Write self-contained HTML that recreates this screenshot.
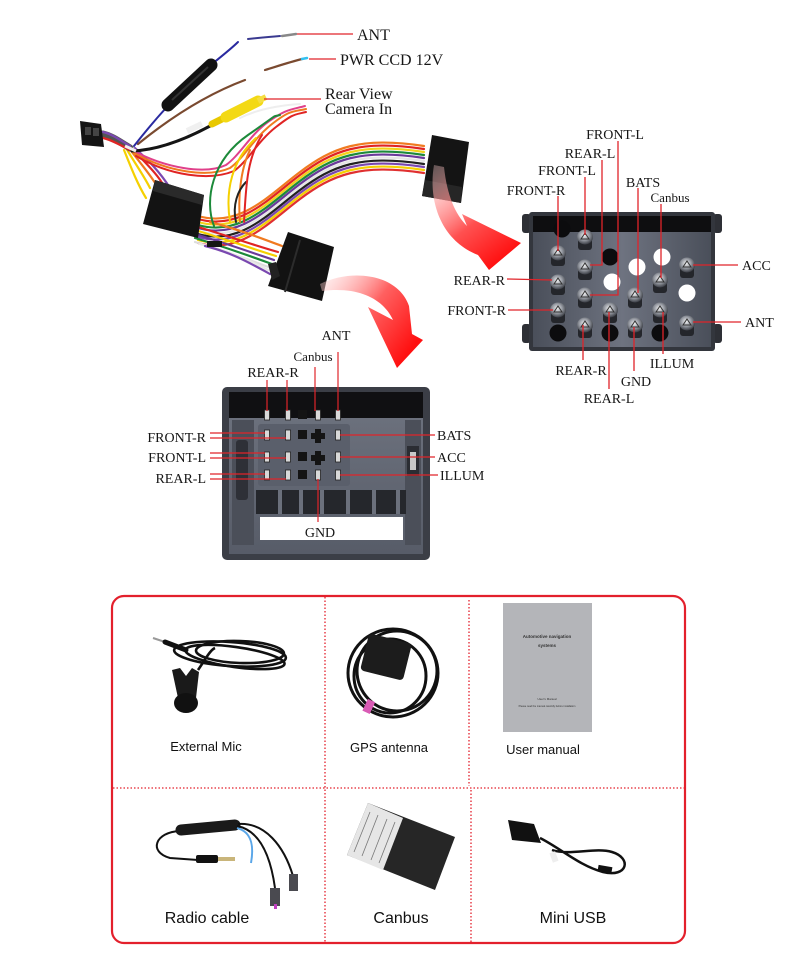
<!DOCTYPE html>
<html><head><meta charset="utf-8"><style>
html,body{margin:0;padding:0;background:#fff;}
svg{display:block;}
.s{font-family:"Liberation Serif",serif;fill:#161616;}
.a{font-family:"Liberation Sans",sans-serif;fill:#111;}
</style></head><body>
<svg width="800" height="969" viewBox="0 0 800 969" xmlns="http://www.w3.org/2000/svg">
<defs>
<radialGradient id="silver" cx="0.45" cy="0.4" r="0.6">
<stop offset="0" stop-color="#f2f2f2"/><stop offset="0.5" stop-color="#9a9ea6"/><stop offset="1" stop-color="#3a3d44"/>
</radialGradient>
<linearGradient id="bodyR" x1="0" y1="0" x2="1" y2="0">
<stop offset="0" stop-color="#4a4f5a"/><stop offset="0.5" stop-color="#6e7380"/><stop offset="1" stop-color="#4a4f5a"/>
</linearGradient>
<linearGradient id="bodyB" x1="0" y1="0" x2="0" y2="1">
<stop offset="0" stop-color="#6f7480"/><stop offset="1" stop-color="#575c68"/>
</linearGradient>
<linearGradient id="ar1" gradientUnits="userSpaceOnUse" x1="436" y1="165" x2="505" y2="258">
<stop offset="0" stop-color="#ffd0d0" stop-opacity="0.35"/><stop offset="0.6" stop-color="#ff5050"/><stop offset="1" stop-color="#ff1010"/>
</linearGradient>
<linearGradient id="ar2" gradientUnits="userSpaceOnUse" x1="322" y1="282" x2="410" y2="350">
<stop offset="0" stop-color="#ffd0d0" stop-opacity="0.4"/><stop offset="0.5" stop-color="#ff6060"/><stop offset="1" stop-color="#ff1010"/>
</linearGradient>
<g id="pin">
<rect x="-7" y="0" width="14" height="13" rx="3" fill="#24262b"/>
<ellipse cx="0" cy="0" rx="8" ry="7.5" fill="url(#silver)"/>
<path d="M-4,2 L0,-4 L4,2 Z" fill="none" stroke="#333" stroke-width="1"/>
</g>
<g id="bp">
<rect x="-2.5" y="-5" width="5" height="10" fill="#d8d8d8" stroke="#222" stroke-width="0.8"/>
</g>
</defs>

<!-- ============ HARNESS ============ -->
<g fill="none" stroke-linecap="round">
<!-- bundle connector1 -> connector3 -->
<g stroke-width="2.2">
<path d="M198,216 C240,228 268,196 300,172 S360,136 424,146" stroke="#f07a20"/>
<path d="M198,219 C240,231 268,199 300,175 S360,139 424,149" stroke="#e02424"/>
<path d="M198,222 C240,234 268,202 300,178 S360,142 424,152" stroke="#f2d21a"/>
<path d="M198,225 C240,237 268,205 300,181 S360,145 424,155" stroke="#1c8a3a"/>
<path d="M198,228 C240,240 268,208 300,184 S360,148 424,158" stroke="#6a3a9a"/>
<path d="M198,231 C240,243 268,211 300,187 S360,151 424,161" stroke="#e6e6e6"/>
<path d="M198,234 C240,246 268,214 300,190 S360,154 424,164" stroke="#222"/>
<path d="M198,237 C240,249 268,217 300,193 S360,157 424,167" stroke="#7a48b0"/>
<path d="M198,240 C240,252 268,220 300,196 S360,160 424,170" stroke="#f5d000"/>
<path d="M198,243 C240,255 268,223 300,199 S360,163 424,173" stroke="#e03030"/>
</g>
<!-- connector1 -> connector2 -->
<g stroke-width="2.2">
<path d="M195,226 C228,236 250,244 278,252" stroke="#e02424"/>
<path d="M195,230 C228,240 250,248 276,256" stroke="#f5d000"/>
<path d="M195,234 C228,244 250,252 274,260" stroke="#6a3a9a"/>
<path d="M195,238 C228,248 250,256 272,264" stroke="#1c8a3a"/>
<path d="M195,242 C228,252 250,260 271,268" stroke="#ddd"/>
<path d="M210,222 C240,230 255,236 282,246" stroke="#f07a20"/>
<path d="M200,244 C225,250 245,258 268,270" stroke="#e8e8e8"/>
<path d="M205,246 C230,252 248,262 270,274" stroke="#7a48b0"/>
</g>
<!-- junction -> connector1 -->
<g stroke-width="2.2">
<path d="M126,148 C136,165 144,176 150,188" stroke="#f5d000"/>
<path d="M129,148 C140,163 150,174 157,186" stroke="#f07a20"/>
<path d="M132,148 C144,162 156,172 164,186" stroke="#e02424"/>
<path d="M135,148 C148,160 160,172 170,188" stroke="#7a48b0"/>
<path d="M124,150 C132,170 138,185 146,198" stroke="#f5d000"/>
<path d="M103,134 C112,136 120,142 130,148" stroke="#555" stroke-width="7"/>
<path d="M103,132 C112,134 120,140 130,146" stroke="#7a48b0"/>
<path d="M103,138 C112,140 120,145 130,150" stroke="#e02424"/>
</g>
<!-- junction -> camera in wires -->
<g stroke-width="2">
<path d="M132,150 C165,168 205,175 226,165 C240,155 250,135 268,122 S290,110 305,106" stroke="#e0408a"/>
<path d="M134,153 C168,172 208,178 230,168 C244,158 254,138 272,124 S292,112 306,109" stroke="#f07a20"/>
<path d="M136,156 C170,176 210,181 234,171 C248,161 258,141 276,127 S294,115 306,112" stroke="#e02424"/>
<path d="M240,118 C252,112 270,106 300,104" stroke="#eee"/>
</g>
<!-- vertical loop wires -->
<g stroke-width="2">
<path d="M214,226 C204,200 212,160 248,135 S270,118 280,115" stroke="#1c8a3a"/>
<path d="M240,222 C238,200 240,170 250,150" stroke="#f07a20"/>
<path d="M236,222 C232,205 238,190 246,182" stroke="#222"/>
<path d="M244,222 C246,190 246,160 262,135" stroke="#e02424"/>
<path d="M230,222 C225,190 232,160 256,138" stroke="#f5d000"/>
</g>
<!-- brown PWR wire -->
<path d="M138,144 C170,118 205,95 245,80" stroke="#7a4a30" stroke-width="2.2"/>
<path d="M265,70 C278,66 290,62 302,59" stroke="#7a4a30" stroke-width="2.2"/>
<path d="M302,59 L307,58" stroke="#33c0f0" stroke-width="2.5"/>
<!-- blue ANT wire -->
<path d="M134,146 C145,132 155,120 166,108" stroke="#2a2aa0" stroke-width="2"/>
<path d="M212,64 C222,56 232,48 238,42" stroke="#2a2aa0" stroke-width="2"/>
<path d="M248,39 C258,38 268,37 280,36" stroke="#3a3a90" stroke-width="2"/>
<path d="M282,36 L296,34" stroke="#888" stroke-width="2.4"/>
<!-- black RCA wire -->
<path d="M132,151 C158,150 184,140 210,126" stroke="#151515" stroke-width="3"/>
</g>
<!-- white label on black wire -->
<path d="M187,131 L202,124" stroke="#f0f0f0" stroke-width="6"/>
<!-- fuse holder -->
<path d="M168,105 L211,65" stroke="#121212" stroke-width="13" stroke-linecap="round"/>
<path d="M172,100 L208,67" stroke="#333" stroke-width="2"/>
<!-- RCA yellow -->
<path d="M212,124 L228,116" stroke="#e8c800" stroke-width="7" stroke-linecap="round"/>
<path d="M226,117 L258,101" stroke="#f3d915" stroke-width="11" stroke-linecap="round"/>
<path d="M258,101 L266,97" stroke="#f5de40" stroke-width="6"/>
<!-- small left connector -->
<polygon points="80,121 101,124 104,147 82,145" fill="#141414"/>
<rect x="85" y="127" width="6" height="8" fill="#444"/>
<rect x="93" y="128" width="6" height="8" fill="#444"/>
<path d="M125,146 L136,151" stroke="#f0f0f0" stroke-width="3"/>
<!-- connector 1 -->
<polygon points="155,180 204,195 198,238 143,224" fill="#131313"/>
<polygon points="155,180 204,195 202,205 153,191" fill="#2a2a2a"/>
<!-- small black piece -->
<rect x="207" y="241" width="15" height="6" fill="#151515"/>
<!-- connector 2 -->
<polygon points="288,232 334,247 322,301 268,286" fill="#121212"/>
<path d="M300,240 L285,292" stroke="#2c2c2c" stroke-width="2"/>
<polygon points="268,264 276,262 280,276 272,280" fill="#222"/>
<!-- connector 3 -->
<polygon points="432,135 469,142 461,203 422,196" fill="#141414"/>
<polygon points="425,180 462,187 461,203 422,196" fill="#262626"/>
<!-- arrows -->
<path d="M434,165 C428,200 440,240 478,255 L489,270 L521,243 L462,214 L467,226 C455,214 447,195 444,167 Z" fill="url(#ar1)"/>
<path d="M320,284 C352,268 398,274 409,306 L412,334 L423,340 L397,368 L368,307 L393,320 C384,300 360,286 322,291 Z" fill="url(#ar2)"/>

<!-- top labels -->
<g stroke="#e0242a" stroke-width="1.3">
<line x1="297" y1="34" x2="353" y2="34"/>
<line x1="309" y1="59" x2="336" y2="59"/>
<line x1="264" y1="99" x2="321" y2="99"/>
</g>
<text class="s" x="357" y="40" font-size="16">ANT</text>
<text class="s" x="340" y="65" font-size="16">PWR CCD 12V</text>
<text class="s" x="325" y="99" font-size="16">Rear View</text>
<text class="s" x="325" y="114" font-size="16">Camera In</text>

<!-- ============ RIGHT CONNECTOR ============ -->
<rect x="522" y="214" width="9" height="19" rx="3" fill="#2e3036"/>
<rect x="522" y="324" width="9" height="19" rx="3" fill="#2e3036"/>
<rect x="713" y="214" width="9" height="19" rx="3" fill="#2e3036"/>
<rect x="713" y="324" width="9" height="19" rx="3" fill="#2e3036"/>
<rect x="529" y="212" width="186" height="139" rx="3" fill="#33363d"/>
<rect x="533" y="216" width="178" height="131" fill="url(#bodyR)"/>
<rect x="533" y="216" width="178" height="16" fill="#0e0e10"/>
<g fill="#0c0c0e">
<circle cx="562" cy="229" r="8.5"/><circle cx="610" cy="257" r="8.5"/>
<circle cx="558" cy="333" r="8.5"/><circle cx="610" cy="333" r="8.5"/><circle cx="660" cy="333" r="8.5"/>
</g>
<g fill="#fff">
<circle cx="637" cy="267" r="8.5"/><circle cx="612" cy="282" r="8.5"/>
<circle cx="662" cy="257" r="8.5"/><circle cx="687" cy="293" r="8.5"/>
</g>
<use href="#pin" x="585" y="237"/>
<use href="#pin" x="558" y="253"/>
<use href="#pin" x="585" y="267"/>
<use href="#pin" x="660" y="280"/>
<use href="#pin" x="687" y="265"/>
<use href="#pin" x="558" y="282"/>
<use href="#pin" x="585" y="295"/>
<use href="#pin" x="635" y="295"/>
<use href="#pin" x="558" y="310"/>
<use href="#pin" x="610" y="310"/>
<use href="#pin" x="660" y="310"/>
<use href="#pin" x="585" y="325"/>
<use href="#pin" x="635" y="325"/>
<use href="#pin" x="687" y="323"/>
<g stroke="#e0242a" stroke-width="1.3" fill="none">
<polyline points="618,141 618,295 590,295"/>
<polyline points="602,160 602,265 590,265"/>
<line x1="585" y1="177" x2="585" y2="235"/>
<line x1="558" y1="196" x2="558" y2="251"/>
<line x1="638" y1="188" x2="638" y2="293"/>
<line x1="661" y1="204" x2="661" y2="278"/>
<line x1="693" y1="265" x2="738" y2="265"/>
<line x1="693" y1="322" x2="741" y2="322"/>
<line x1="507" y1="279" x2="552" y2="280"/>
<line x1="508" y1="310" x2="553" y2="310"/>
<line x1="583" y1="325" x2="583" y2="360"/>
<line x1="609" y1="312" x2="609" y2="389"/>
<line x1="634" y1="327" x2="634" y2="371"/>
<line x1="663" y1="312" x2="663" y2="354"/>
</g>
<g class="s" font-size="14">
<text x="615" y="139" text-anchor="middle">FRONT-L</text>
<text x="590" y="158" text-anchor="middle">REAR-L</text>
<text x="567" y="175" text-anchor="middle">FRONT-L</text>
<text x="536" y="195" text-anchor="middle">FRONT-R</text>
<text x="643" y="187" text-anchor="middle">BATS</text>
<text x="670" y="202" text-anchor="middle" font-size="13">Canbus</text>
<text x="742" y="270">ACC</text>
<text x="745" y="327">ANT</text>
<text x="505" y="285" text-anchor="end">REAR-R</text>
<text x="506" y="315" text-anchor="end">FRONT-R</text>
<text x="581" y="375" text-anchor="middle">REAR-R</text>
<text x="636" y="386" text-anchor="middle">GND</text>
<text x="609" y="403" text-anchor="middle">REAR-L</text>
<text x="672" y="368" text-anchor="middle">ILLUM</text>
</g>

<!-- ============ BOTTOM CONNECTOR ============ -->
<rect x="222" y="387" width="208" height="173" rx="5" fill="#3b3e46"/>
<rect x="229" y="392" width="194" height="162" fill="url(#bodyB)"/>
<rect x="229" y="392" width="194" height="26" fill="#101012"/>
<rect x="232" y="420" width="22" height="125" fill="#4b4f59"/>
<rect x="236" y="440" width="12" height="60" rx="3" fill="#2e3037"/>
<rect x="405" y="420" width="16" height="125" fill="#4b4f59"/>
<rect x="407" y="446" width="12" height="30" fill="#2b2d33"/>
<rect x="410" y="452" width="6" height="18" fill="#c8c8c8"/>
<rect x="258" y="424" width="92" height="62" rx="3" fill="#5a5f6b"/>
<rect x="256" y="490" width="150" height="24" fill="#25272c"/>
<g fill="#6b707c">
<rect x="278" y="490" width="4" height="24"/><rect x="299" y="490" width="4" height="24"/>
<rect x="320" y="490" width="4" height="24"/><rect x="346" y="490" width="4" height="24"/>
<rect x="372" y="490" width="4" height="24"/><rect x="396" y="490" width="4" height="24"/>
</g>
<rect x="260" y="517" width="143" height="23" fill="#fff"/>
<g fill="#141414">
<rect x="298" y="410" width="9" height="9"/>
<rect x="298" y="430" width="9" height="9"/>
<rect x="298" y="452" width="9" height="9"/>
<rect x="298" y="470" width="9" height="9"/>
<path d="M315,429 h6 v4 h4 v6 h-4 v4 h-6 v-4 h-4 v-6 h4 z"/>
<path d="M315,451 h6 v4 h4 v6 h-4 v4 h-6 v-4 h-4 v-6 h4 z"/>
</g>
<use href="#bp" x="267" y="415"/><use href="#bp" x="288" y="415"/>
<use href="#bp" x="318" y="415"/><use href="#bp" x="338" y="415"/>
<use href="#bp" x="267" y="435"/><use href="#bp" x="288" y="435"/><use href="#bp" x="338" y="435"/>
<use href="#bp" x="267" y="457"/><use href="#bp" x="288" y="457"/><use href="#bp" x="338" y="457"/>
<use href="#bp" x="267" y="475"/><use href="#bp" x="288" y="475"/><use href="#bp" x="318" y="475"/><use href="#bp" x="338" y="475"/>
<g stroke="#e0242a" stroke-width="1.2" fill="none">
<line x1="338" y1="352" x2="338" y2="411"/>
<line x1="315" y1="367" x2="315" y2="411"/>
<line x1="267" y1="380" x2="267" y2="411"/>
<line x1="287" y1="380" x2="287" y2="411"/>
<line x1="210" y1="433" x2="265" y2="433"/>
<line x1="210" y1="438" x2="286" y2="438"/>
<line x1="210" y1="453" x2="265" y2="453"/>
<line x1="210" y1="458" x2="286" y2="458"/>
<line x1="210" y1="474" x2="265" y2="474"/>
<line x1="210" y1="479" x2="286" y2="479"/>
<line x1="340" y1="435" x2="435" y2="435"/>
<line x1="340" y1="457" x2="435" y2="457"/>
<line x1="340" y1="475" x2="438" y2="475"/>
<line x1="318" y1="479" x2="318" y2="522"/>
</g>
<g class="s" font-size="14">
<text x="336" y="340" text-anchor="middle">ANT</text>
<text x="313" y="361" text-anchor="middle" font-size="13">Canbus</text>
<text x="273" y="377" text-anchor="middle">REAR-R</text>
<text x="206" y="442" text-anchor="end">FRONT-R</text>
<text x="206" y="462" text-anchor="end">FRONT-L</text>
<text x="206" y="483" text-anchor="end">REAR-L</text>
<text x="437" y="440">BATS</text>
<text x="437" y="462">ACC</text>
<text x="440" y="480">ILLUM</text>
<text x="320" y="537" text-anchor="middle">GND</text>
</g>

<!-- ============ ACCESSORIES BOX ============ -->
<rect x="112" y="596" width="573" height="347" rx="12" fill="none" stroke="#e3202c" stroke-width="2.2"/>
<g stroke="#e3202c" stroke-width="1.3" stroke-dasharray="1.5 2" fill="none">
<line x1="113" y1="788" x2="684" y2="788"/>
<line x1="325" y1="597" x2="325" y2="942"/>
<line x1="469" y1="600" x2="469" y2="786"/>
<line x1="471" y1="790" x2="471" y2="942"/>
</g>
<!-- mic -->
<g fill="none" stroke="#111" stroke-width="2.6">
<ellipse cx="230" cy="654" rx="56" ry="12" transform="rotate(4 230 654)"/>
<ellipse cx="235" cy="657" rx="50" ry="10" transform="rotate(8 235 657)"/>
<ellipse cx="240" cy="652" rx="44" ry="11" transform="rotate(2 240 652)"/>
<path d="M198,670 C205,660 210,650 215,648"/>
</g>
<path d="M153,638 L165,642" stroke="#999" stroke-width="2"/>
<path d="M165,642 L186,650" stroke="#111" stroke-width="5" stroke-linecap="round"/>
<path d="M172,670 L180,668 L186,676 L192,668 L199,672 L196,698 L178,698 Z" fill="#1a1a1a"/>
<ellipse cx="186" cy="703" rx="12" ry="10" fill="#111"/>
<!-- GPS -->
<g fill="none" stroke="#111" stroke-width="3">
<ellipse cx="393" cy="673" rx="45" ry="44"/>
<ellipse cx="397" cy="671" rx="40" ry="40"/>
<ellipse cx="390" cy="676" rx="36" ry="37"/>
</g>
<rect x="364" y="638" width="44" height="38" rx="4" fill="#1c1c1c" transform="rotate(14 386 657)"/>
<rect x="365" y="700" width="8" height="13" fill="#d95bb5" transform="rotate(25 369 706)"/>
<!-- manual -->
<rect x="503" y="603" width="89" height="129" fill="#b4b5b9"/>
<text class="a" x="547" y="638" font-size="4.5" text-anchor="middle" font-weight="bold" style="fill:#333">Automotive navigation</text>
<text class="a" x="547" y="647" font-size="4.5" text-anchor="middle" font-weight="bold" style="fill:#333">systems</text>
<text class="a" x="547" y="700" font-size="3" text-anchor="middle" style="fill:#333">User's Manual</text>
<text class="a" x="547" y="707" font-size="2.5" text-anchor="middle" style="fill:#333">Please read the manual carefully before installation</text>
<!-- radio cable -->
<path d="M180,831 C155,832 148,852 170,858 L198,860" fill="none" stroke="#111" stroke-width="2"/>
<path d="M181,830 L235,825" stroke="#1a1a1a" stroke-width="11" stroke-linecap="round"/>
<rect x="196" y="855" width="22" height="8" rx="2" fill="#111"/>
<rect x="218" y="857" width="17" height="4" fill="#c9b57a"/>
<path d="M237,828 C252,832 254,846 251,863" fill="none" stroke="#5aa6e8" stroke-width="2"/>
<path d="M237,826 C258,830 270,852 275,888" fill="none" stroke="#111" stroke-width="2"/>
<path d="M238,824 C265,822 284,846 293,876" fill="none" stroke="#111" stroke-width="2"/>
<rect x="270" y="888" width="10" height="18" fill="#4a4a50"/>
<rect x="274" y="904" width="3" height="5" fill="#c040c0"/>
<rect x="289" y="874" width="9" height="17" fill="#4a4a50"/>
<!-- canbus box -->
<polygon points="368,803 455,837 435,890 347,855" fill="#262626"/>
<polygon points="368,803 403,818 383,870 347,855" fill="#e6e6e6"/>
<g stroke="#777" stroke-width="0.8">
<line x1="370" y1="812" x2="354" y2="852"/>
<line x1="378" y1="815" x2="362" y2="856"/>
<line x1="387" y1="819" x2="371" y2="860"/>
<line x1="395" y1="822" x2="379" y2="863"/>
</g>
<!-- mini usb -->
<path d="M540,838 C560,848 580,866 603,872 C628,878 632,858 612,852 C595,847 570,856 552,850" fill="none" stroke="#111" stroke-width="2.5"/>
<polygon points="508,820 534,824 541,843 512,840" fill="#111"/>
<rect x="551" y="852" width="6" height="10" fill="#eee" transform="rotate(-20 554 857)"/>
<rect x="598" y="866" width="14" height="6" fill="#111" transform="rotate(10 605 869)"/>
<!-- labels -->
<text class="a" x="206" y="751" font-size="13" text-anchor="middle">External Mic</text>
<text class="a" x="389" y="752" font-size="13" text-anchor="middle">GPS antenna</text>
<text class="a" x="543" y="754" font-size="13" text-anchor="middle">User manual</text>
<text class="a" x="207" y="923" font-size="16" text-anchor="middle">Radio cable</text>
<text class="a" x="401" y="923" font-size="16" text-anchor="middle">Canbus</text>
<text class="a" x="573" y="923" font-size="16" text-anchor="middle">Mini USB</text>
</svg>
</body></html>
